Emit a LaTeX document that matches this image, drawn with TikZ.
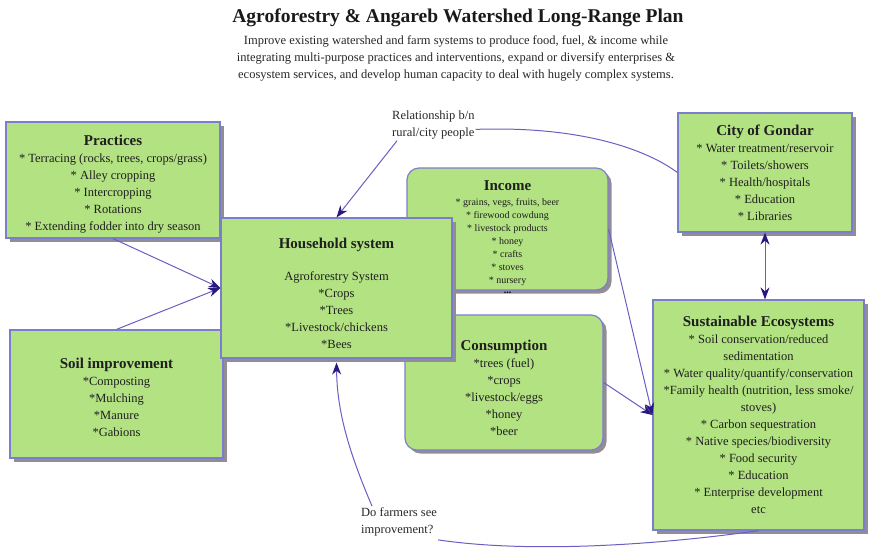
\documentclass[tikz,border=0pt]{standalone}
\usepackage{fontspec}
\setmainfont{Liberation Serif}
\usetikzlibrary{shadows,arrows.meta}
\definecolor{boxfill}{RGB}{178,226,130}
\definecolor{boxline}{RGB}{125,125,205}
\definecolor{linecol}{RGB}{105,95,195}
\definecolor{headcol}{RGB}{40,25,130}
\definecolor{shadowcol}{RGB}{145,140,150}
\newcommand{\btitle}[1]{{\fontsize{15}{17}\selectfont\bfseries #1}}
\begin{document}
\begin{tikzpicture}[x=1pt,y=-1pt,
  box/.style={draw=boxline, line width=1.2pt, fill=boxfill,
    drop shadow={shadow xshift=3.5pt, shadow yshift=-3.5pt, fill=shadowcol, opacity=1},
    align=center, inner sep=0pt, text=black!88,
    font=\fontsize{12.5}{17}\selectfont},
  rbox/.style={box, rounded corners=12pt},
  lbl/.style={align=left, inner sep=1pt, text=black!85, font=\fontsize{12.5}{17}\selectfont},
  plain/.style={draw=linecol, line width=1pt},
  conn/.style={plain, -{Stealth[length=12pt,width=9pt,color=headcol]}},
  conn2/.style={plain, {Stealth[length=12pt,width=9pt,color=headcol]}-{Stealth[length=12pt,width=9pt,color=headcol]}}
]
\useasboundingbox (0,0) rectangle (869,550);

% title
\node[font=\fontsize{19.5}{22}\selectfont\bfseries, text=black!90] (title) at (458,18)
  {Agroforestry \& Angareb Watershed Long-Range Plan};
\node[font=\fontsize{12.5}{17}\selectfont, align=center, text=black!85] (sub) at (456,58)
  {Improve existing watershed and farm systems to produce food, fuel, \& income while\\
   integrating multi-purpose practices and interventions, expand or diversify enterprises \&\\
   ecosystem services, and develop human capacity to deal with hugely complex systems.};

% boxes
\node[box, minimum width=214pt, minimum height=116pt] (practices) at (113,180)
  {\mbox{}\\[1.5pt]\btitle{Practices}\\
   * Terracing (rocks, trees, crops/grass)\\
   * Alley cropping\\
   * Intercropping\\
   * Rotations\\
   * Extending fodder into dry season};

\node[box, minimum width=174pt, minimum height=119pt] (gondar) at (765,172.5)
  {\btitle{City of Gondar}\\
   * Water treatment/reservoir\\
   * Toilets/showers\\
   * Health/hospitals\\
   * Education\\
   * Libraries};

\node[rbox, minimum width=201pt, minimum height=122pt, font=\fontsize{10}{13}\selectfont] (income) at (507.5,229)
  {\mbox{}\\[5pt]\btitle{Income}\\[2pt]
   * grains, vegs, fruits, beer\\
   * firewood cowdung\\
   * livestock products\\
   * honey\\
   * crafts\\
   * stoves\\
   * nursery};
\node[font=\fontsize{10}{13}\selectfont\bfseries, inner sep=0pt] (dots) at (507.5,293) {...};

\node[rbox, minimum width=198pt, minimum height=135pt] (consumption) at (504,382.5)
  {\mbox{}\\[4pt]\btitle{Consumption}\\
   *trees (fuel)\\
   *crops\\
   *livestock/eggs\\
   *honey\\
   *beer};

\node[box, minimum width=213pt, minimum height=128pt] (soil) at (116.5,394)
  {\mbox{}\\[-0.5pt]\btitle{Soil improvement}\\
   *Composting\\
   *Mulching\\
   *Manure\\
   *Gabions};

\node[box, minimum width=231pt, minimum height=140pt] (household) at (336.5,288)
  {\mbox{}\\[4.5pt]\btitle{Household system}\\[15pt]
   Agroforestry System\\
   *Crops\\
   *Trees\\
   *Livestock/chickens\\
   *Bees};

\node[box, minimum width=211pt, minimum height=230pt] (sust) at (758.5,415)
  {\btitle{Sustainable Ecosystems}\\
   * Soil conservation/reduced\\
   sedimentation\\
   * Water quality/quantify/conservation\\
   *Family health (nutrition, less smoke/\\
   stoves)\\
   * Carbon sequestration\\
   * Native species/biodiversity\\
   * Food security\\
   * Education\\
   * Enterprise development\\
   etc};

% labels
\node[lbl, anchor=north west] (rel) at (391,110) {Relationship b/n\\rural/city people};
\node[lbl, anchor=north west] (farm) at (360,506) {Do farmers see\\improvement?};

% connectors
\draw[conn] (practices.south) -- (household.west);
\draw[conn] (soil.north) -- (household.west);
\draw[conn] ([xshift=6pt]rel.south west) -- (household.north);
\draw[plain] ([yshift=-4pt]rel.east) .. controls (570,126) and (640,145) .. (gondar.west);
\draw[conn2] (gondar.south) -- (gondar.south |- sust.north);
\draw[conn] (income.east) -- (sust.west);
\draw[conn] (consumption.east) -- (sust.west);
\draw[plain] (sust.south) .. controls (680,542) and (540,555) .. ([yshift=-3pt]farm.south east);
\draw[conn] ([xshift=12pt]farm.north west) .. controls (348,450) and (337,410) .. ([yshift=-4pt]household.south);
\end{tikzpicture}
\end{document}
